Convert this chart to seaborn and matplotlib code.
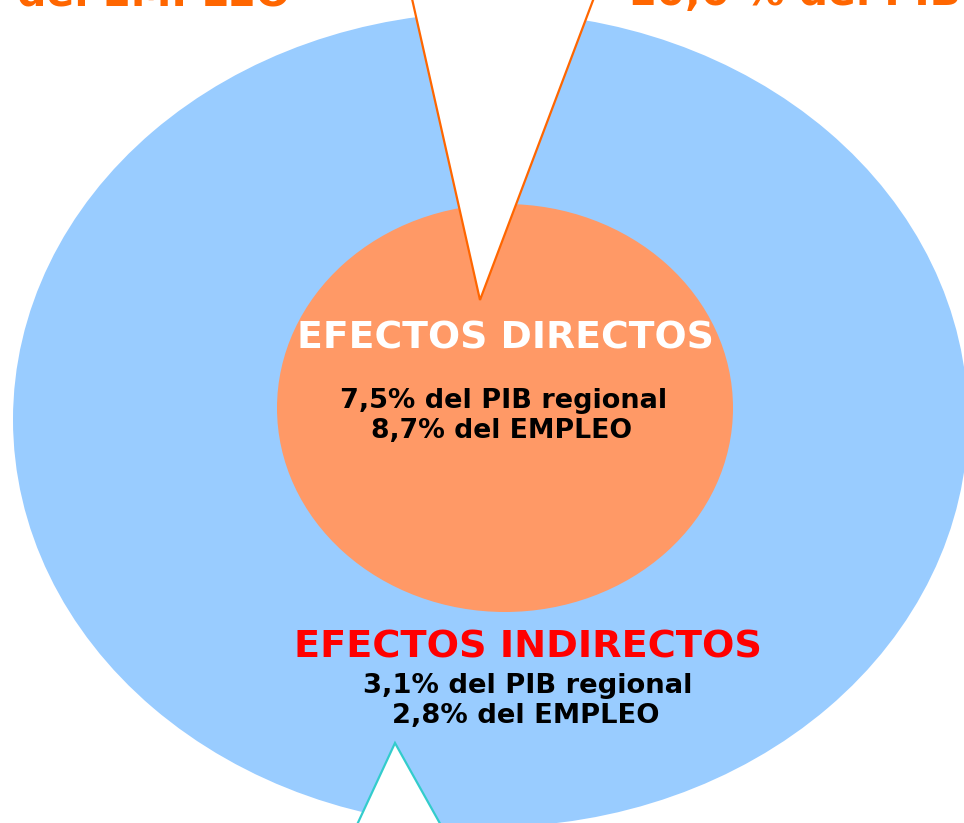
import matplotlib
matplotlib.use("Agg")
import matplotlib.pyplot as plt
from matplotlib.patches import Ellipse, Polygon
import seaborn as sns

# Economic impact figures (share of regional GDP and employment)
effect_names = ["EFECTOS DIRECTOS", "EFECTOS INDIRECTOS"]
pib_share = [7.5, 3.1]
empleo_share = [8.7, 2.8]
total_pib = 10.6
total_labels = ["del EMPLEO", "% del PIB"]

BLUE = "#99CCFF"
ORANGE_FILL = "#FF9966"
ORANGE = "#FF6600"
RED = "#FF0000"
TEAL = "#33CCCC"

sns.set_theme(style="white")
plt.rcParams["font.family"] = ["DejaVu Sans"]

W, H = 964, 823
fig = plt.figure(figsize=(W / 100, H / 100), dpi=100)
ax = fig.add_axes([0, 0, 1, 1])
ax.set_xlim(0, W)
ax.set_ylim(H, 0)
ax.axis("off")

def fmt(v):
    return f"{v:.1f}".replace(".", ",")

# outer ring (indirect effects) and inner core (direct effects)
ax.add_patch(Ellipse((490.5, 419.6), 2 * 477.5, 2 * 407.4, facecolor=BLUE, edgecolor="none", zorder=1))
ax.add_patch(Ellipse((505, 408), 2 * 228, 2 * 204, facecolor=ORANGE_FILL, edgecolor="none", zorder=2))

# callout pointers
ax.add_patch(Polygon([(401, -50), (480, 300), (612, -50)], closed=True,
                     facecolor="white", edgecolor=ORANGE, linewidth=1.6, zorder=3))
ax.add_patch(Polygon([(336, 870), (395, 743), (466, 870)], closed=True,
                     facecolor="white", edgecolor=TEAL, linewidth=1.6, zorder=3))

renderer = fig.canvas.get_renderer()

def fitted_text(x, y, s, target_w, color, ha="center", size=20):
    t = ax.text(x, y, s, ha=ha, va="baseline", color=color, fontsize=size,
                fontweight="bold", zorder=5)
    w = t.get_window_extent(renderer).width
    t.set_fontsize(size * target_w / w)
    return t

# direct effects
fitted_text(505, 348, effect_names[0], 415, "white")
fitted_text(504, 408, f"{fmt(pib_share[0])}% del PIB regional", 328, "black")
fitted_text(502, 438, f"{fmt(empleo_share[0])}% del EMPLEO", 260, "black")

# indirect effects
fitted_text(528, 658, effect_names[1], 467, RED)
fitted_text(528, 693, f"{fmt(pib_share[1])}% del PIB regional", 330, "black")
fitted_text(526, 723, f"{fmt(empleo_share[1])}% del EMPLEO", 268, "black")

# totals along the top edge
top_left = fitted_text(17, 5, total_labels[0], 273, ORANGE, ha="left")
ax.text(628, 5, f"{fmt(total_pib)} {total_labels[1]}", ha="left", va="baseline",
        color=ORANGE, fontweight="bold", fontsize=top_left.get_fontsize(), zorder=5)

fig.savefig("out.png", dpi=100)
